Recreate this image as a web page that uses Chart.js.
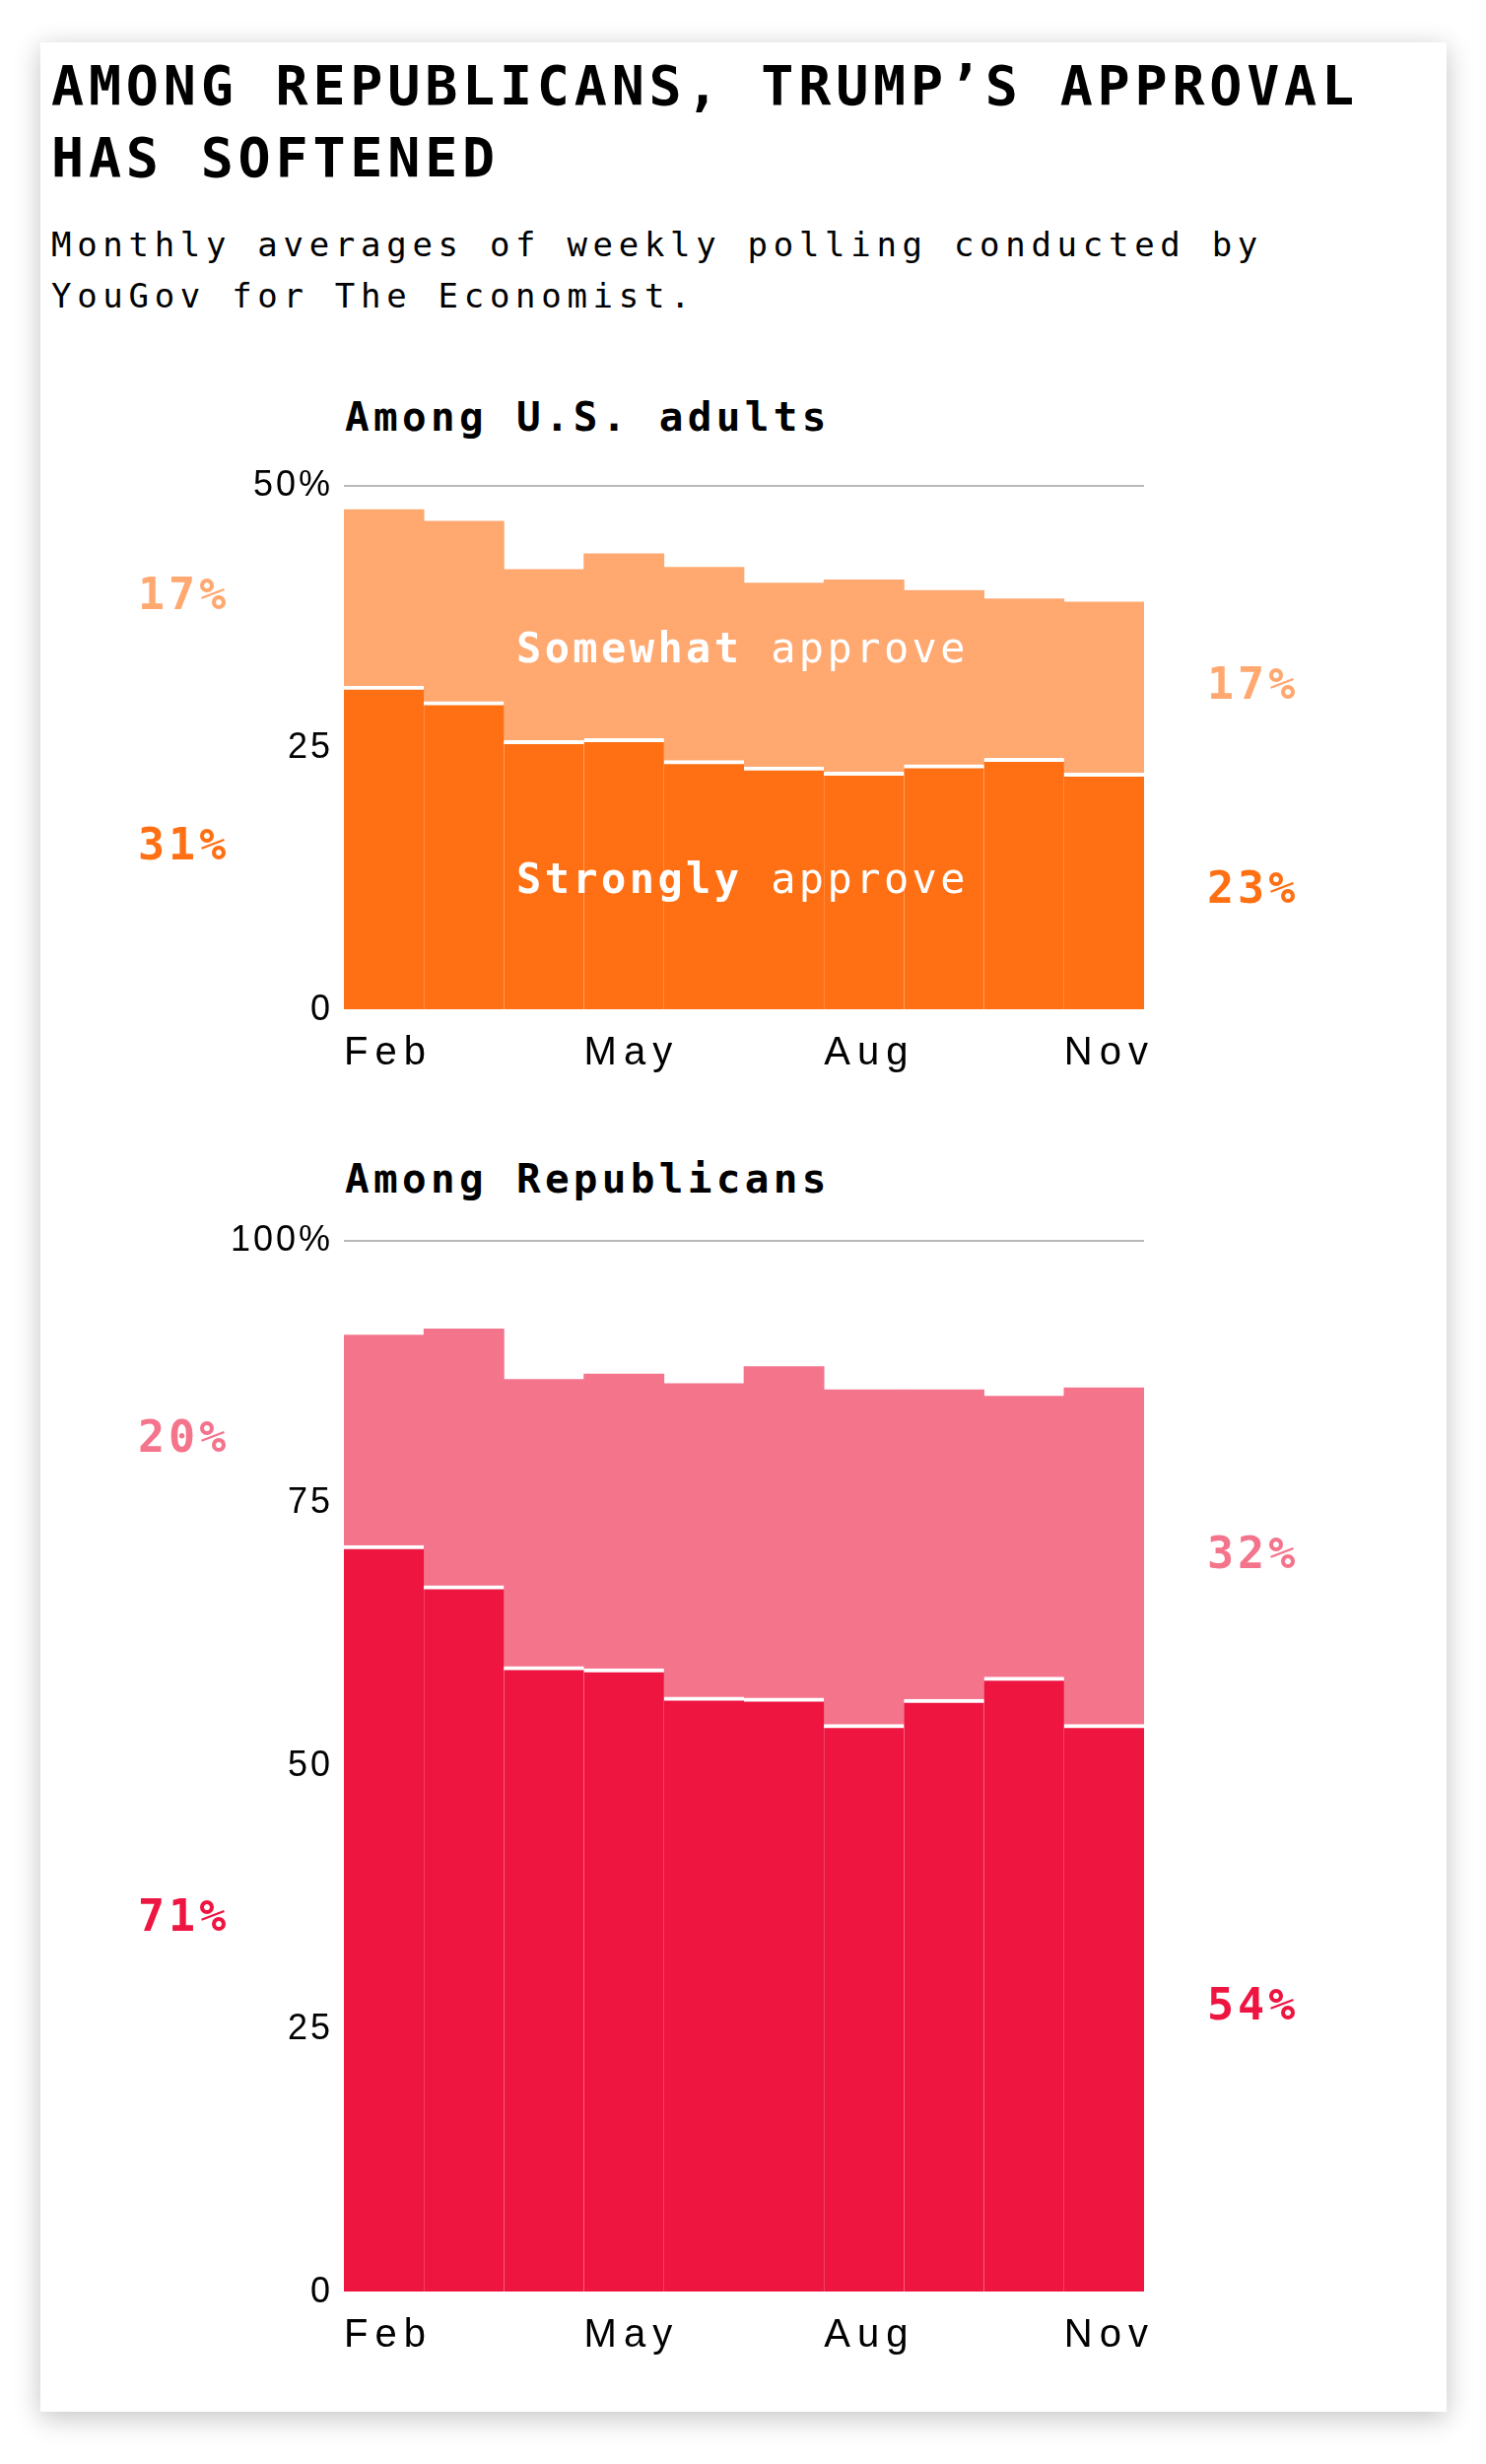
<!DOCTYPE html>
<html>
<head>
<meta charset="utf-8">
<script src="https://cdn.jsdelivr.net/npm/chart.js@4"></script>
<style>
  html, body { margin: 0; padding: 0; background: #fff; }
  body { width: 1508px; height: 2500px; position: relative; overflow: hidden; }
  .card {
    position: absolute; left: 41px; top: 43px; width: 1427px; height: 2404px;
    background: #fff; box-shadow: 0 6px 26px rgba(0, 0, 0, 0.24);
  }
  .mono { font-family: "DejaVu Sans Mono", monospace; color: #000; position: absolute; white-space: nowrap; }
  .title { left: 52px; top: 51px; font-size: 55px; line-height: 73px; font-weight: bold; letter-spacing: 4.8px; }
  .sub { left: 52px; top: 222px; font-size: 34px; line-height: 52px; letter-spacing: 5.7px; }
  .section { left: 350px; font-size: 41px; line-height: 50px; font-weight: bold; letter-spacing: 4.3px; }
  canvas { position: absolute; left: 41px; }
</style>
</head>
<body>
<div class="card"></div>
<div class="mono title">AMONG REPUBLICANS, TRUMP’S APPROVAL<br>HAS SOFTENED</div>
<div class="mono sub">Monthly averages of weekly polling conducted by<br>YouGov for The Economist.</div>
<div class="mono section" style="top:398px">Among U.S. adults</div>
<div class="mono section" style="top:1171px">Among Republicans</div>
<canvas id="chart-adults" width="1427" height="640" style="top:460px"></canvas>
<canvas id="chart-reps" width="1427" height="1175" style="top:1226px"></canvas>
<script>
(function () {
  const months = ['Feb', 'Mar', 'Apr', 'May', 'Jun', 'Jul', 'Aug', 'Sep', 'Oct', 'Nov'];

  const adultsStrong = [30.9, 29.4, 25.7, 25.9, 23.8, 23.2, 22.7, 23.4, 24.0, 22.6];
  const adultsSomewhat = [16.8, 17.2, 16.3, 17.6, 18.4, 17.5, 18.3, 16.6, 15.2, 16.3];
  const adultsStartLabels = ['31%', '17%'];
  const adultsEndLabels = ['23%', '17%'];
  const adultsTicks = [0, 25, 50];

  const repsStrong = [71.0, 67.2, 59.5, 59.3, 56.6, 56.5, 54.0, 56.4, 58.5, 54.0];
  const repsSomewhat = [20.0, 24.4, 27.3, 28.0, 29.8, 31.5, 31.8, 29.4, 26.7, 32.0];
  const repsStartLabels = ['71%', '20%'];
  const repsEndLabels = ['54%', '32%'];
  const repsTicks = [0, 25, 50, 75, 100];

  const bandNames = ['Strongly', 'Somewhat'];
  const bandNameValues = [12.2, 34.2];

  const orange = '#FF7014';
  const orangeLight = '#FFA870';
  const red = '#EE1541';
  const redLight = '#F4748C';

  const monoFont = '"DejaVu Sans Mono", monospace';
  const sansFont = '"Liberation Sans", Arial, sans-serif';

  // canvas text has no letter-spacing option in Chart.js, so wrap the scale's label drawing
  function fixScale(size, key, spacing) {
    return function (scale) {
      scale[key] = size;
      if (scale._spaced) return;
      const draw = scale.drawLabels.bind(scale);
      scale.drawLabels = function (area) {
        const ctx = this.ctx;
        ctx.save();
        ctx.letterSpacing = spacing;
        draw(area);
        ctx.restore();
      };
      scale._spaced = true;
    };
  }

  const bandLabels = {
    id: 'bandLabels',
    afterDatasetsDraw(chart, args, opts) {
      const ctx = chart.ctx;
      const y = chart.scales.y;
      const area = chart.chartArea;
      const last = chart.data.labels.length - 1;
      ctx.save();
      ctx.letterSpacing = '4px';
      ctx.font = 'bold 45px ' + monoFont;
      ctx.textBaseline = 'middle';
      ctx.textAlign = 'left';
      let base0 = 0, baseN = 0;
      chart.data.datasets.forEach(function (ds, i) {
        const v0 = ds.data[0], vN = ds.data[last];
        ctx.fillStyle = ds.backgroundColor;
        ctx.fillText(opts.start[i], 99, y.getPixelForValue(base0 + v0 / 2));
        ctx.fillText(opts.end[i], area.right + 64, y.getPixelForValue(baseN + vN / 2));
        base0 += v0;
        baseN += vN;
      });

      if (opts.names) {
        ctx.letterSpacing = '3.4px';
        ctx.fillStyle = '#fff';
        opts.names.forEach(function (name, i) {
          const py = y.getPixelForValue(opts.nameValues[i]);
          const px = area.left + 175;
          ctx.font = 'bold 42px ' + monoFont;
          ctx.fillText(name, px, py);
          const w = ctx.measureText(name + ' ').width;
          ctx.font = '42px ' + monoFont;
          ctx.fillText('approve', px + w, py);
        });
      }
      ctx.restore();
    },
  };

  function stackedChart(canvasId, strong, somewhat, colors, ticks, startLabels, endLabels, names) {
    const max = ticks[ticks.length - 1];
    const bandWidth = 812 / months.length;
    new Chart(document.getElementById(canvasId), {
      type: 'bar',
      data: {
        labels: months,
        datasets: [
          {
            label: 'Strongly approve', data: strong, backgroundColor: colors[0],
            borderColor: '#fff', borderWidth: { top: 4, left: 0, right: 0, bottom: 0 }, borderSkipped: false,
            categoryPercentage: 1, barPercentage: 1,
          },
          {
            label: 'Somewhat approve', data: somewhat, backgroundColor: colors[1], borderWidth: 0,
            categoryPercentage: 1, barPercentage: 1,
          },
        ],
      },
      options: {
        responsive: false,
        animation: false,
        layout: { padding: { left: 0, right: 307, top: 30, bottom: 0 } },
        plugins: {
          legend: { display: false },
          tooltip: { enabled: false },
          bandLabels: {
            start: startLabels, end: endLabels,
            names: names ? bandNames : null, nameValues: bandNameValues,
          },
        },
        scales: {
          x: {
            stacked: true,
            grid: { display: false },
            border: { display: false },
            afterFit: fixScale(75, 'height', '7px'),
            ticks: {
              autoSkip: false, maxRotation: 0, align: 'start', labelOffset: -bandWidth / 2,
              padding: 12, color: '#000', font: { family: sansFont, size: 40 },
              callback: function (v, i) { return i % 3 === 0 ? months[i] : ''; },
            },
          },
          y: {
            stacked: true,
            min: 0, max: max,
            afterFit: fixScale(308, 'width', '3px'),
            afterBuildTicks: function (scale) { scale.ticks = ticks.map(function (v) { return { value: v }; }); },
            border: { display: false },
            grid: {
              drawTicks: false, lineWidth: 2,
              color: function (c) { return c.tick && c.tick.value === max ? '#b8b8b8' : 'rgba(0,0,0,0)'; },
            },
            ticks: {
              padding: 11, color: '#000', font: { family: sansFont, size: 36 },
              callback: function (v) { return v === max ? v + '%' : String(v); },
            },
          },
        },
      },
      plugins: [bandLabels],
    });
  }

  stackedChart('chart-adults', adultsStrong, adultsSomewhat, [orange, orangeLight], adultsTicks,
    adultsStartLabels, adultsEndLabels, true);
  stackedChart('chart-reps', repsStrong, repsSomewhat, [red, redLight], repsTicks,
    repsStartLabels, repsEndLabels, false);
})();
</script>
</body>
</html>
